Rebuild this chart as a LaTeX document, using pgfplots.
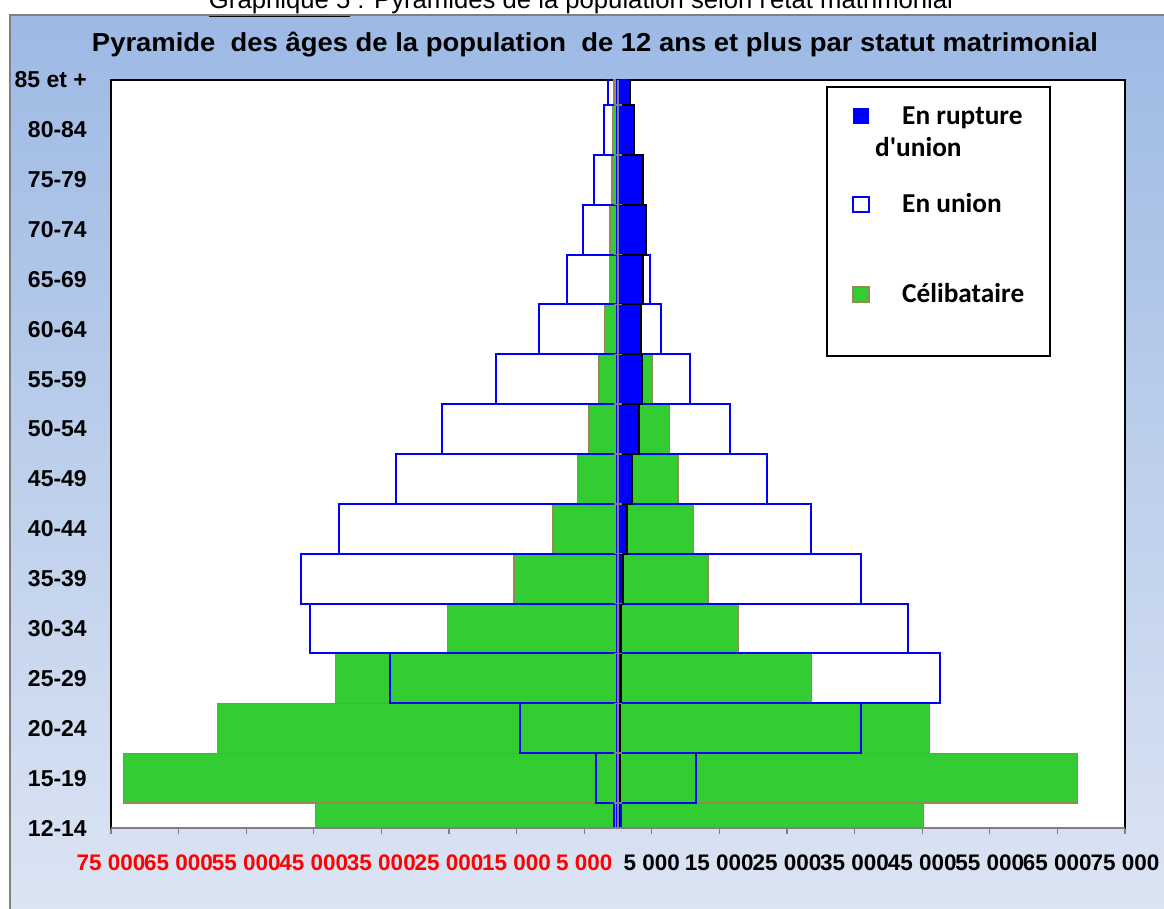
\documentclass[border=0pt]{standalone}
\usepackage{pgfplots}
\pgfplotsset{compat=1.18}
\usepackage{fontspec}
\setmainfont{Liberation Sans}
\newfontfamily\calibri{Carlito}
\definecolor{cgreen}{HTML}{33CC33}
\definecolor{cbrown}{HTML}{938953}
\definecolor{cblue}{HTML}{0000FF}
\definecolor{bgtop}{HTML}{9DB9E4}
\definecolor{bgbot}{HTML}{DDE5F3}
\begin{document}
\begin{tikzpicture}[x=1pt,y=1pt]
\path[use as bounding box] (0,0) rectangle (1164,-909);
\shadedraw[top color=bgtop, bottom color=bgbot, draw=gray, line width=1.5pt] (10,-15) rectangle (1185,-930);
\node[anchor=base, inner sep=0pt] at (581,-9) {\resizebox{744pt}{!}{\fontsize{23}{25}\selectfont\underline{Graphique 5} : Pyramides de la population selon l\textquotesingle état matrimonial}};
\node[anchor=base, inner sep=0pt] at (595,-52) {\scalebox{1.055}[1]{\fontsize{26}{30}\selectfont\bfseries Pyramide\ \ des âges de la population\ \ de 12 ans et plus par statut matrimonial}};
\begin{axis}[
  at={(111pt,-828pt)}, anchor=south west, scale only axis,
  width=1014pt, height=748pt,
  xmin=-75000, xmax=75000, ymin=0, ymax=15,
  scaled x ticks=false,
  xbar, bar shift=0pt, bar width=1,
  axis background/.style={fill=white},
  axis line style={black, line width=1.5pt},
  xtick={-75000,-65000,-55000,-45000,-35000,-25000,-15000,-5000,5000,15000,25000,35000,45000,55000,65000,75000},
  xticklabels={{\textcolor{red}{75 000}},{\textcolor{red}{65 000}},{\textcolor{red}{55 000}},{\textcolor{red}{45 000}},{\textcolor{red}{35 000}},{\textcolor{red}{25 000}},{\textcolor{red}{15 000}},{\textcolor{red}{5 000}},{5 000},{15 000},{25 000},{35 000},{45 000},{55 000},{65 000},{75 000}},
  ytick={0,1,2,3,4,5,6,7,8,9,10,11,12,13,14,15},
  yticklabels={12-14,15-19,20-24,25-29,30-34,35-39,40-44,45-49,50-54,55-59,60-64,65-69,70-74,75-79,80-84,85 et +},
  x tick style={gray, line width=1.2pt},
  xtick pos=bottom, tick align=outside, major tick length=6pt,
  ytick style={draw=none},
  xticklabel style={font=\fontsize{22.5}{23}\selectfont\bfseries, anchor=north, inner sep=0pt, yshift=-21pt},
  yticklabel style={font=\fontsize{23}{23}\selectfont\bfseries, anchor=east, inner sep=0pt, xshift=-18pt},
]
% Celibataire
\addplot[fill=cgreen, draw=cbrown, line width=1.3pt] coordinates {
(-44700,0) (-73100,1) (-59200,2) (-41800,3) (-25200,4) (-15400,5) (-9600,6) (-6000,7)
(-4300,8) (-2800,9) (-2000,10) (-1300,11) (-1200,12) (-900,13) (-800,14) (-600,15)};
\addplot[fill=cgreen, draw=cbrown, line width=1.3pt] coordinates {
(45200,0) (68000,1) (46100,2) (28600,3) (17800,4) (13300,5) (11200,6) (8900,7)
(7600,8) (5100,9) (3000,10) (2500,11) (2000,12) (1500,13) (1000,14) (600,15)};
% En union
\addplot[fill=none, draw=cblue, line width=2pt] coordinates {
(-600,0) (-3300,1) (-14500,2) (-33800,3) (-45500,4) (-46900,5) (-41200,6) (-32800,7)
(-26100,8) (-18000,9) (-11700,10) (-7600,11) (-5200,12) (-3500,13) (-2000,14) (-1500,15)};
\addplot[fill=none, draw=cblue, line width=2pt] coordinates {
(500,0) (11500,1) (35900,2) (47600,3) (42900,4) (35900,5) (28600,6) (22100,7)
(16500,8) (10600,9) (6400,10) (4700,11) (3500,12) (2600,13) (1600,14) (1000,15)};
% En rupture d'union
\addplot[fill=cblue, draw=cblue, line width=1pt] coordinates {
(-250,0) (-250,1) (-250,2) (-250,3) (-250,4) (-250,5) (-250,6) (-250,7)
(-250,8) (-250,9) (-250,10) (-250,11) (-250,12) (-250,13) (-250,14) (-250,15)};
\addplot[fill=cblue, draw=black, line width=2pt] coordinates {
(200,0) (300,1) (300,2) (400,3) (500,4) (800,5) (1300,6) (2100,7)
(3100,8) (3600,9) (3400,10) (3750,11) (4100,12) (3750,13) (2400,14) (1800,15)};
% centre axis and ticks
\draw[gray, line width=2pt] (axis cs:0,0) -- (axis cs:0,15);
\pgfplotsinvokeforeach{0.5,1.5,2.5,3.5,4.5,5.5,6.5,7.5,8.5,9.5,10.5,11.5,12.5,13.5,14.5}{
  \draw[gray, line width=1.5pt] ([xshift=-4pt]axis cs:0,#1) -- ([xshift=4pt]axis cs:0,#1);
}
\draw[gray, line width=1.5pt] (rel axis cs:0,0) -- (rel axis cs:1,0);
\end{axis}
% legend
\draw[black, line width=1.8pt, fill=white] (827,-87) rectangle (1050,-356);
\fill[cblue] (853,-108) rectangle (869,-124);
\draw[cblue, line width=1.5pt, fill=white] (853,-197) rectangle (869,-212);
\draw[cbrown, line width=1.5pt, fill=cgreen] (853,-287) rectangle (869,-302);
\begin{scope}[every node/.style={anchor=base west, inner sep=0pt, font=\calibri\bfseries\fontsize{27.3}{30}\selectfont}]
\node at (902,-125) {En rupture};
\node at (875,-157) {d\textquotesingle union};
\node at (902,-213) {En union};
\node at (902,-302) {Célibataire};
\end{scope}
\end{tikzpicture}
\end{document}
